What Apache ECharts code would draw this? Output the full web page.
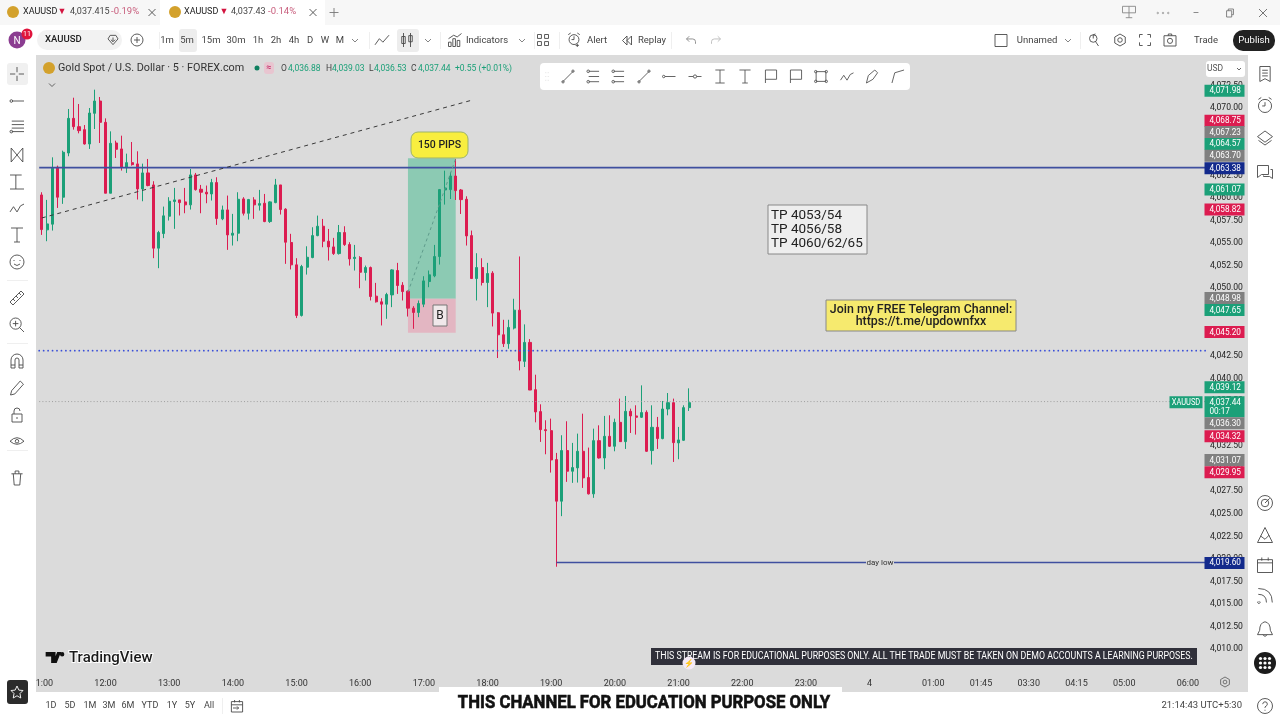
<!DOCTYPE html>
<html>
<head>
<meta charset="utf-8">
<title>XAUUSD 5m</title>
<style>html,body{margin:0;padding:0;background:#fff}#chart{width:1280px;height:720px}</style>
<script src="https://cdn.jsdelivr.net/npm/echarts@6/dist/echarts.min.js"></script>
</head>
<body>
<div id="chart"></div>
<script>
// Candle values, one entry per 5 minute bar starting at 11:00
const opens = [4060.35,4056.48,4057.11,4063.42,4060.10,4065.00,4068.84,4067.92,4067.59,4066.00,4069.40,4070.76,4068.40,4060.54,4066.11,4065.45,4063.38,4063.93,4063.79,4061.02,4062.79,4061.46,4054.45,4056.07,4057.99,4059.62,4059.80,4059.58,4059.25,4062.57,4060.98,4060.65,4060.46,4061.72,4057.70,4058.69,4055.89,4056.11,4059.91,4058.32,4059.80,4059.21,4059.43,4057.40,4059.50,4061.46,4058.77,4055.08,4052.60,
  4046.99,4052.34,4053.41,4055.84,4056.88,4055.22,4054.59,4053.85,4056.18,4054.85,4053.30,4053.41,4051.75,4052.30,4049.13,4048.50,4048.24,4049.27,4051.97,4050.34,4049.68,4047.80,4047.32,4048.24,4050.75,4051.38,4053.52,4060.90,4060.94,4062.45,4060.90,4059.87,4055.84,4051.08,4052.30,4050.64,
  4051.68,4047.29,4044.85,4043.86,4045.59,4047.58,4041.90,4044.00,4038.76,4036.33,4034.33,4034.22,4031.01,4026.40,4032.01,4029.72,4030.09,4031.93,4029.02,4027.21,4033.11,4031.19,4033.59,4032.49,4035.14,4033.00,4036.36,4035.85,4035.70,4036.25,4032.01,4034.59,4033.34,4036.62,4037.32,4032.86,4033.15,4036.77];
const closes = [4056.51,4057.14,4063.31,4060.10,4065.08,4068.84,4067.92,4067.48,4066.00,4069.43,4070.76,4068.40,4060.54,4066.07,4065.41,4063.42,4063.93,4063.71,4061.02,4062.79,4061.39,4054.45,4056.18,4058.03,4059.65,4059.80,4059.50,4059.25,4062.57,4060.94,4060.65,4060.46,4061.72,4057.73,4058.69,4055.92,4056.11,4059.87,4058.32,4059.84,4059.25,4059.39,4057.40,4059.58,4061.46,4058.73,4055.11,4052.60,4046.99,
  4052.41,4053.44,4055.84,4056.88,4055.22,4054.59,4053.85,4056.18,4054.85,4053.26,4053.44,4051.78,4052.30,4049.09,4048.50,4048.24,4049.31,4052.04,4050.31,4049.64,4047.80,4047.32,4048.31,4050.82,4051.49,4053.52,4060.94,4061.12,4062.45,4060.83,4059.83,4055.81,4051.08,4052.30,4050.64,4051.64,
  4047.25,4044.85,4043.86,4045.66,4047.58,4041.94,4044.00,4038.72,4036.29,4034.33,4034.22,4030.97,4026.40,4032.01,4029.72,4030.12,4031.93,4028.98,4027.21,4033.11,4031.19,4033.59,4032.49,4035.14,4033.00,4036.36,4035.85,4035.70,4036.22,4031.93,4034.59,4033.34,4036.62,4037.32,4032.89,4033.19,4036.77,4037.32];
const lows = [4055.92,4055.22,4056.40,4058.91,4059.36,4064.64,4067.59,4067.18,4065.93,4065.45,4067.66,4066.11,4060.54,4060.54,4064.45,4063.05,4062.79,4063.60,4059.84,4059.65,4061.31,4053.34,4052.23,4055.56,4057.51,4056.59,4058.07,4058.32,4058.73,4060.83,4058.32,4059.43,4059.73,4057.03,4057.55,4054.26,4054.74,4055.22,4058.07,4057.62,4057.70,4058.62,4057.33,4057.25,4059.43,4058.18,4052.71,4052.09,4046.70,
  4046.87,4051.52,4053.33,4055.77,4054.55,4053.08,4053.70,4053.74,4054.70,4052.52,4051.97,4050.01,4050.86,4048.65,4048.42,4045.88,4046.62,4047.91,4049.38,4048.65,4046.87,4045.51,4046.80,4047.91,4050.12,4051.23,4052.63,4059.28,4059.90,4059.79,4058.24,4054.74,4051.05,4048.65,4050.31,4047.91,
  4045.77,4042.27,4043.49,4043.30,4045.44,4040.90,4041.27,4038.72,4035.14,4032.97,4031.60,4029.57,4019.13,4024.74,4028.54,4028.43,4028.46,4027.87,4027.14,4026.77,4031.12,4029.94,4032.41,4031.93,4032.97,4032.19,4033.96,4033.78,4035.62,4031.86,4030.46,4032.19,4033.26,4035.92,4030.75,4031.05,4033.08,4036.40];
const highs = [4060.65,4059.80,4064.52,4063.60,4065.26,4069.88,4071.13,4070.43,4068.10,4069.99,4072.02,4071.21,4068.84,4067.40,4066.37,4066.92,4064.93,4066.22,4065.19,4063.82,4064.34,4061.87,4056.37,4059.06,4060.10,4061.13,4059.80,4061.13,4063.23,4062.79,4061.46,4061.39,4062.13,4062.31,4059.17,4060.28,4058.25,4060.65,4060.10,4059.91,4060.10,4060.91,4060.46,4059.65,4062.13,4061.46,4058.88,4056.04,4053.34,
  4052.60,4054.66,4056.77,4058.06,4057.69,4056.58,4055.59,4057.02,4056.88,4055.11,4054.81,4053.56,4052.52,4052.41,4050.60,4048.90,4049.50,4052.12,4052.82,4050.68,4049.75,4048.02,4048.65,4051.34,4051.97,4054.81,4061.01,4063.04,4062.86,4064.33,4061.01,4060.20,4056.40,4053.89,4053.33,4052.82,
  4051.90,4047.36,4046.51,4046.51,4048.84,4053.53,4046.00,4044.37,4040.42,4037.14,4035.37,4035.55,4031.75,4033.71,4035.26,4032.86,4033.89,4036.10,4032.34,4034.44,4034.81,4035.85,4035.92,4035.55,4037.77,4038.06,4036.66,4037.03,4039.24,4036.47,4037.03,4035.74,4037.51,4038.39,4037.77,4034.63,4037.03,4038.91];

// Time axis: 220 bar slots, only these carry a label
const timeTickIndex = [0,12,24,36,48,60,72,84,96,108,120,132,144,156,168,177,186,195,204,216];
const timeTickLabels = ['11:00','12:00','13:00','14:00','15:00','16:00','17:00','18:00','19:00','20:00','21:00','22:00','23:00','4','01:00','01:45','03:30','04:15','05:00','06:00'];

// Price scale tags at the right edge; the scale pushes crowded tags apart, tagNudge is that shift in px
const tagPrices = [4071.98,4068.75,4067.23,4064.57,4063.70,4063.38,4061.07,4058.82,4048.98,4047.65,4045.20,4039.12,4037.44,4036.30,4034.32,4031.07,4029.95,4019.60];
const tagKinds = ['up','down','flat','up','flat','blue','up','down','flat','up','down','up','up','flat','down','flat','down','blue'];
const tagNudge = [0.6,1.5,-0.9,-13,-9,0.7,1,0.7,0.5,0.5,0.4,0.9,0.7,11.4,6.6,1,3.2,0.4];

// Long position drawing and levels
const positionBars = [69,78];
const positionPrices = [4064.43,4048.83,4045.07];
const resistanceLevel = 4063.38;
const supportLevel = 4043.08;
const lastPrice = 4037.44;
const dayLow = 4019.60;
const dayLowStartBar = 97;
const trendBars = [0,81];
const trendPrices = [4057.8,4070.85];
const tradeBars = [69,78];
const tradePrices = [4049.57,4064.37];

const UP = '#1ba078', DOWN = '#dc1c50', BLUE = '#3f4f9f', NAVY = '#132a8c', FONT = 'Roboto, sans-serif';
const tagColors = { up: UP, down: DOWN, flat: '#808080', blue: NAVY };

const categories = new Array(220).fill('');
timeTickIndex.forEach((slot, i) => { categories[slot] = timeTickLabels[i]; });
const candles = opens.map((o, i) => [o, closes[i], lows[i], highs[i]]);

const levelRows = [
  { x0: null, p0: resistanceLevel, p1: resistanceLevel, stroke: BLUE, width: 1.6 },
  { x0: null, p0: supportLevel, p1: supportLevel, stroke: '#3a4fd8', width: 1.8, dash: [0.01, 4.44], cap: 'round' },
  { x0: null, p0: lastPrice, p1: lastPrice, stroke: '#9f9f9f', width: 1, dash: [1, 2.2] },
  { x0: dayLowStartBar, p0: dayLow, p1: dayLow, stroke: BLUE, width: 1.6, toEdge: true },
  { x0: trendBars[0], x1: trendBars[1], p0: trendPrices[0], p1: trendPrices[1], stroke: '#3a3a3a', width: 1, dash: [4, 4] },
  { x0: tradeBars[0], x1: tradeBars[1], p0: tradePrices[0], p1: tradePrices[1], stroke: '#5f9c8c', width: 1, dash: [3, 3] }
];
const zoneRows = [
  { top: positionPrices[0], bottom: positionPrices[1], fill: '#8ccab3' },
  { top: positionPrices[1], bottom: positionPrices[2], fill: '#e3b6c2' }
];

function renderZone(params, api) {
  const row = zoneRows[params.dataIndex];
  const a = api.coord([positionBars[0], row.top]);
  const b = api.coord([positionBars[1], row.bottom]);
  return { type: 'rect', shape: { x: a[0], y: a[1], width: b[0] - a[0], height: b[1] - a[1] }, style: { fill: row.fill } };
}

function renderLevel(params, api) {
  const row = levelRows[params.dataIndex];
  const cs = params.coordSys;
  const right = cs.x + cs.width;
  const y0 = api.coord([0, row.p0])[1];
  const y1 = api.coord([0, row.p1])[1];
  const x0 = row.x0 === null ? cs.x : api.coord([row.x0, row.p0])[0];
  const x1 = (row.x0 === null || row.toEdge) ? right : api.coord([row.x1, row.p1])[0];
  return { type: 'line', shape: { x1: x0, y1: y0, x2: x1, y2: y1 },
    style: { stroke: row.stroke, lineWidth: row.width, lineDash: row.dash, lineCap: row.cap || 'butt' } };
}

function renderTag(params, api) {
  const price = tagPrices[params.dataIndex];
  const y = api.coord([0, price])[1] + tagNudge[params.dataIndex];
  const x = params.coordSys.x + params.coordSys.width - 2;
  const fill = tagColors[tagKinds[params.dataIndex]];
  const label = price.toFixed(2).replace(/^(\d)(\d{3})/, '$1,$2');
  const isLast = price === lastPrice;
  const children = [
    { type: 'rect', shape: { x, y: y - 6, width: 40, height: isLast ? 21 : 12 }, style: { fill } },
    { type: 'text', style: { x: x + 5, y: y + 0.5, text: label, fill: '#fff', font: '8.2px ' + FONT, verticalAlign: 'middle' } }
  ];
  if (isLast) {
    children.push({ type: 'text', style: { x: x + 5, y: y + 9.5, text: '00:17', fill: '#fff', font: '8.2px ' + FONT, verticalAlign: 'middle' } });
    children.push({ type: 'rect', shape: { x: x - 35, y: y - 6, width: 33, height: 12 }, style: { fill } });
    children.push({ type: 'text', x: x - 18.5, y: y + 0.5, scaleX: 0.88, style: { x: 0, y: 0, text: 'XAUUSD', fill: '#fff', font: '8.5px ' + FONT, align: 'center', verticalAlign: 'middle' } });
  }
  return { type: 'group', children };
}

// Small stroked pictograms for the application chrome
const ICONS = {
  cross: 'M9 1V7M9 11V17M1 9H7M11 9H17',
  ray: 'M1 9a1.5 1.5 0 1 0 3 0a1.5 1.5 0 1 0 -3 0M4 9H17',
  lines: 'M3 3H17M3 7H17M3 11H17M3 15H17M1 15a1.5 1.5 0 1 0 3 0a1.5 1.5 0 1 0 -3 0',
  fork: 'M4 2L14 14M14 2L4 14M4 2V14M14 2V14',
  fib: 'M3 3H13M3 15H15M8 3V15',
  wave: 'M1 12L5 6L9 12L13 5L17 3',
  text: 'M3 3H15M9 3V17M6 17H12',
  smile: 'M16 9A7 7 0 1 1 2 9A7 7 0 1 1 16 9M6 7V8M12 7V8M6 11Q9 14 12 11',
  ruler: 'M2 13L13 2L16 5L5 16ZM5 10L7 12M8 7L10 9M11 4L13 6',
  zoom: 'M14 8A6 6 0 1 1 2 8A6 6 0 1 1 14 8M8 5V11M5 8H11M12 12L17 17',
  magnet: 'M3 16V8A6 6 0 0 1 15 8V16H11V8A2 2 0 0 0 7 8V16ZM3 13H7M11 13H15',
  pencil: 'M3 12L11 3L14 6L6 15L2 16Z',
  lock: 'M4 8H14V16H4ZM6 8V5A3 3 0 0 1 12 5M9 11V13',
  eye: 'M1 8Q9 0 17 8Q9 15 1 8M11 8A2 2 0 1 1 7 8A2 2 0 1 1 11 8',
  trash: 'M3 5H15M5 5L6 17H12L13 5M7 5V2H11V5',
  list: 'M4 1H15V17L9.5 14L4 17ZM6.5 5H12.5M6.5 8H12.5M6.5 11H12.5',
  clock: 'M16 10A7 7 0 1 1 2 10A7 7 0 1 1 16 10M9 6V10H6M2 3L5 1M16 3L13 1',
  layers: 'M9 2L17 8L9 14L1 8ZM2 12L9 17L16 12',
  chat: 'M2 2H13V11H6L2 14ZM15 6H17V15L14 13H8V12',
  target: 'M17 9A8 8 0 1 1 1 9A8 8 0 1 1 17 9M13 9A4 4 0 1 1 5 9A4 4 0 1 1 13 9M9 9L14 4',
  peak: 'M2 16L9 2L16 16ZM5 10L9 13L13 9',
  calendar: 'M2 4H16V16H2ZM2 7H16M6 2V5M12 2V5',
  signal: 'M2 15A1 1 0 1 0 3 15M2 9Q9 9 9 16M2 4Q14 4 14 16',
  bell: 'M9 2Q14 3 14 10L16 14H2L4 10Q4 3 9 2M7 14Q9 17 11 14',
  help: 'M17 9A8 8 0 1 1 1 9A8 8 0 1 1 17 9M6.5 7Q7 4.5 9 4.5Q11.5 4.5 11.5 7Q11.5 8.5 9 10V11M9 13V14',
  star: 'M9 1L11.5 6.5L17 7L13 11L14 17L9 14L4 17L5 11L1 7L6.5 6.5Z',
  linechart: 'M1 14L6 7L10 11L17 3',
  candle: 'M5 1V17M3 5H7V13H3ZM13 1V17M11 4H15V11H11Z',
  grid: 'M2 2H7V7H2ZM11 2H16V7H11ZM2 11H7V16H2ZM11 11H16V16H11Z',
  bars: 'M2 16V11H5V16ZM7 16V7H10V16ZM12 16V9H15V16ZM2 7L8 3L12 5L17 1',
  alarm: 'M15 9A6 6 0 1 1 3 9A6 6 0 1 1 15 9M9 5V9H6M2 3L5 1M16 3L13 1M13 14V18M11 16H15',
  rewind: 'M9 3L3 9L9 15ZM15 3L9 9L15 15Z',
  undo: 'M6 3L2 7L6 11M2 7H11Q15 7 15 11V14',
  redo: 'M12 3L16 7L12 11M16 7H7Q3 7 3 11V14',
  plusCircle: 'M17 9A8 8 0 1 1 1 9A8 8 0 1 1 17 9M9 5V13M5 9H13',
  plus: 'M9 2V16M2 9H16',
  close: 'M3 3L15 15M15 3L3 15',
  chevron: 'M3 6L9 12L15 6',
  hexagon: 'M9 1L16 5V13L9 17L2 13V5ZM12 9A3 3 0 1 1 6 9A3 3 0 1 1 12 9',
  frame: 'M2 6V2H6M12 2H16V6M16 12V16H12M6 16H2V12',
  camera: 'M2 4H16V16H2ZM12 10A3 3 0 1 1 6 10A3 3 0 1 1 12 10M7 4V2H11V4',
  apple: 'M13 7A5 5 0 1 1 3 7A5 5 0 1 1 13 7M8 7V2L11 1M11 11L15 17',
  screen: 'M1 2H17V10H1ZM9 2V16M5 16H13',
  restore: 'M4 5H13V16H4ZM7 5V2H16V12H13',
  check: 'M2 2H16V16H2Z',
  diamond: 'M9 15L2 7L5 2H13L16 7ZM9 5V10M6 8L9 11L12 8',
  jump: 'M2 3H16V16H2ZM2 7H16M6 1V4M12 1V4M4 11H11M9 9L11 11L9 13',
  dots: 'M1 9A1 1 0 1 0 3 9A1 1 0 1 0 1 9M8 9A1 1 0 1 0 10 9A1 1 0 1 0 8 9M15 9A1 1 0 1 0 17 9A1 1 0 1 0 15 9',
  grip: 'M3 2V3M3 8V9M3 14V15M7 2V3M7 8V9M7 14V15',
  segment: 'M2 16L16 2M1 16a1.5 1.5 0 1 0 3 0a1.5 1.5 0 1 0 -3 0M14 2a1.5 1.5 0 1 0 3 0a1.5 1.5 0 1 0 -3 0',
  rail: 'M3 3H15M3 9H15M3 15H15M1 3a1.5 1.5 0 1 0 3 0a1.5 1.5 0 1 0 -3 0M1 15a1.5 1.5 0 1 0 3 0a1.5 1.5 0 1 0 -3 0',
  midpoint: 'M1 9H7M11 9H17M7 9a2 2 0 1 0 4 0a2 2 0 1 0 -4 0',
  range: 'M4 2H14M4 16H14M9 2V16',
  note: 'M3 16V2H15V12H3',
  rectangle: 'M3 3H15V15H3ZM1 3a1.5 1.5 0 1 0 3 0a1.5 1.5 0 1 0 -3 0M14 3a1.5 1.5 0 1 0 3 0a1.5 1.5 0 1 0 -3 0M1 15a1.5 1.5 0 1 0 3 0a1.5 1.5 0 1 0 -3 0M14 15a1.5 1.5 0 1 0 3 0a1.5 1.5 0 1 0 -3 0',
  brush: 'M3 16L5 8L12 2L15 5L10 12Z',
  path: 'M2 16L5 5L15 2'
};

function icon(name, cx, cy, size, stroke, width) {
  const s = size || 14;
  return { type: 'path',
    shape: { pathData: ICONS[name], layout: 'center', x: cx - s / 2, y: cy - s / 2, width: s, height: s },
    style: { fill: 'none', stroke: stroke || '#4a4a4a', lineWidth: width || 0.9 } };
}
function text(str, x, y, size, fill, opts) {
  const o = opts || {};
  return { type: 'text', z: o.z || 20, silent: true, x, y, scaleX: o.scaleX || 1,
    style: { x: 0, y: 0, text: str, fill: fill || '#333', font: (o.weight ? o.weight + ' ' : '') + size + 'px ' + (o.family || FONT),
      align: o.align || 'center', verticalAlign: 'middle', stroke: o.stroke, lineWidth: o.strokeWidth } };
}
function box(x, y, w, h, fill, opts) {
  const o = opts || {};
  return { type: 'rect', z: o.z || 15, silent: true, shape: { x, y, width: w, height: h, r: o.r || 0 },
    style: { fill, stroke: o.stroke, lineWidth: o.lineWidth } };
}
function dot(cx, cy, r, fill, z) {
  return { type: 'circle', z: z || 20, silent: true, shape: { cx, cy, r }, style: { fill } };
}

function buildChrome() {
  const g = [];
  // panels
  g.push(box(36, 55, 1212, 637, '#dbdbdb', { z: -10 }));
  g.push(box(0, 0, 1280, 25, '#f7f7f7'));
  g.push(box(160, 0, 165, 25, '#ffffff'));
  g.push(box(0, 25, 1280, 30, '#ffffff'));
  g.push(box(0, 55, 36, 665, '#ffffff'));
  g.push(box(1250, 55, 30, 665, '#ffffff'));
  g.push(box(0, 692, 1280, 28, '#ffffff'));

  // tabs
  [[13, 'XAUUSD', 23, 62, '4,037.415', 70, '-0.19%', 111, 152], [175, 'XAUUSD', 184, 224, '4,037.43', 231, '-0.14%', 268, 313]].forEach(t => {
    g.push(dot(t[0], 12, 6, '#d3a12c'));
    g.push(text(t[1], t[2], 12, 9, '#222', { align: 'left' }));
    g.push(text('▼', t[3], 12, 9, '#d3143f'));
    g.push(text(t[4], t[5], 12, 9, '#444', { align: 'left' }));
    g.push(text(t[6], t[7], 12, 9.5, '#c85d7c', { align: 'left' }));
    g.push(icon('close', t[8], 12.5, 7));
  });
  g.push(icon('plus', 334, 12.5, 9, '#777'));
  g.push(icon('screen', 1129, 12, 13, '#888'));
  g.push(icon('dots', 1163, 13, 12, '#999'));
  g.push(icon('close', 1263, 13, 8, '#666'));
  g.push(icon('restore', 1230, 13, 8, '#777'));
  g.push(text('–', 1196, 13, 10, '#777'));

  // main toolbar
  g.push(dot(17, 40, 8.5, '#8b3d91'));
  g.push(text('N', 17, 41, 10, '#fff'));
  g.push(dot(27, 34, 5.5, '#e0143c', 21));
  g.push(text('11', 27, 34, 7, '#fff', { z: 22 }));
  g.push(box(37, 30, 85, 20, '#f2f2f2', { r: 10 }));
  g.push(text('XAUUSD', 45, 40, 9.5, '#222', { align: 'left', weight: 500 }));
  g.push(icon('diamond', 113, 40, 10));
  g.push(icon('plusCircle', 137, 40, 12));
  g.push(box(179, 29, 18, 23, '#ededed', { r: 3 }));
  g.push(box(397, 29, 22, 23, '#ededed', { r: 3 }));
  [['1m', 167], ['5m', 187], ['15m', 211], ['30m', 236], ['1h', 258], ['2h', 276], ['4h', 294], ['D', 310], ['W', 325], ['M', 340]].forEach(t => {
    g.push(text(t[0], t[1], 40.5, 9.5, '#444'));
  });
  [355, 428, 522, 1068].forEach(x => g.push(icon('chevron', x, 40.5, 6, '#777')));
  g.push(icon('linechart', 382, 40, 14));
  g.push(icon('candle', 407, 40, 14));
  g.push(icon('bars', 455, 40, 13));
  g.push(text('Indicators', 487, 40.5, 9.5, '#444'));
  g.push(icon('grid', 543, 40, 11));
  g.push(icon('alarm', 574, 40, 14));
  g.push(text('Alert', 597, 40.5, 9.5, '#444'));
  g.push(icon('rewind', 627, 40.5, 9));
  g.push(text('Replay', 652, 40.5, 9.5, '#444'));
  g.push(icon('undo', 691, 40, 9, '#888'));
  g.push(icon('redo', 716, 40, 9, '#bbb'));
  g.push(icon('check', 1001, 40.5, 12));
  g.push(text('Unnamed', 1037, 40.5, 9.5, '#444'));
  g.push(icon('apple', 1094, 40, 12));
  g.push(icon('hexagon', 1120, 40, 12));
  g.push(icon('frame', 1145, 40, 11));
  g.push(icon('camera', 1170, 40, 12));
  g.push(text('Trade', 1206, 40.5, 9.5, '#444'));
  g.push(box(1233, 30, 42, 21, '#222222', { r: 10 }));
  g.push(text('Publish', 1254, 40.5, 9.5, '#fff'));
  [159, 369, 440, 534, 559, 671, 1080].forEach(x => g.push(box(x, 32, 0.6, 17, '#e4e4e4')));

  // legend row
  g.push(dot(49, 68, 6, '#d3a12c'));
  g.push(text('Gold Spot / U.S. Dollar · 5 · FOREX.com', 58, 68.5, 10.8, '#333', { align: 'left' }));
  g.push(dot(257, 68, 2.5, '#0e7f5f'));
  g.push(box(264, 62, 10, 12, '#e8c5d0', { r: 3 }));
  g.push(text('≈', 269, 68, 9, '#c2185b'));
  g.push(text('O', 281, 68.5, 8.5, '#444', { align: 'left' }));
  g.push(text('4,036.88', 288, 68.5, 8.5, UP, { align: 'left' }));
  g.push(text('H', 326, 68.5, 8.5, '#444', { align: 'left' }));
  g.push(text('4,039.03', 332, 68.5, 8.5, UP, { align: 'left' }));
  g.push(text('L', 369, 68.5, 8.5, '#444', { align: 'left' }));
  g.push(text('4,036.53', 374, 68.5, 8.5, UP, { align: 'left' }));
  g.push(text('C', 411, 68.5, 8.5, '#444', { align: 'left' }));
  g.push(text('4,037.44', 418, 68.5, 8.5, UP, { align: 'left' }));
  g.push(text('+0.55 (+0.01%)', 455, 68.5, 8.5, UP, { align: 'left' }));
  g.push(icon('chevron', 52, 85, 6, '#555'));

  // floating drawing toolbar
  g.push(box(540, 63, 370, 27, '#ffffff', { r: 4 }));
  g.push(icon('grip', 547, 76.5, 8, '#ccc'));
  [['segment', 568], ['rail', 593], ['rail', 618], ['segment', 644], ['ray', 669], ['midpoint', 695], ['range', 720], ['text', 745], ['note', 771], ['note', 796], ['rectangle', 821], ['wave', 847], ['brush', 872], ['path', 898]]
    .forEach(t => g.push(icon(t[0], t[1], 76.5, 13, '#555')));

  // USD selector
  g.push(box(1206, 61, 39, 16, '#ffffff', { r: 3 }));
  g.push(text('USD', 1215, 69, 8.5, '#555'));
  g.push(icon('chevron', 1239, 69, 4, '#555'));

  // left tool rail
  g.push(box(7, 63, 21, 22, '#f0f0f0', { r: 3 }));
  [['cross', 74], ['ray', 101], ['lines', 127], ['fork', 155], ['fib', 182], ['wave', 208], ['text', 235], ['smile', 262], ['ruler', 298], ['zoom', 325], ['magnet', 361], ['pencil', 388], ['lock', 415], ['eye', 441], ['trash', 478]]
    .forEach(t => g.push(icon(t[0], 17, t[1], 14)));
  [280, 343, 450].forEach(y => g.push(box(7, y, 21, 0.6, '#e4e4e4')));
  g.push(box(7, 680, 21, 24, '#2b2b2b', { r: 3 }));
  g.push(icon('star', 17, 692, 12, '#fff'));

  // right rail
  [['list', 74], ['clock', 105], ['layers', 138], ['chat', 172], ['target', 503], ['peak', 535], ['calendar', 565], ['signal', 596], ['bell', 629], ['help', 706]]
    .forEach(t => g.push(icon(t[0], 1265, t[1], 15)));
  g.push(dot(1265, 663, 11, '#1c1c1c'));
  [-4.5, 0, 4.5].forEach(dx => [-4.5, 0, 4.5].forEach(dy => g.push(dot(1265 + dx, 663 + dy, 1.6, '#fff', 21))));
  g.push(icon('hexagon', 1225, 682, 10, '#666'));

  // bottom range bar
  [['1D', 51], ['5D', 70], ['1M', 90], ['3M', 109], ['6M', 128], ['YTD', 150], ['1Y', 172], ['5Y', 190], ['All', 209]].forEach(t => {
    g.push(text(t[0], t[1], 706, 9, '#444'));
  });
  g.push(box(222, 698, 0.6, 16, '#e4e4e4'));
  g.push(icon('jump', 237, 706, 12));
  g.push(text('21:14:43 UTC+5:30', 1242, 706, 9.5, '#444', { align: 'right' }));

  // annotations drawn on the chart
  g.push(box(411, 132, 57, 26, '#f8ee3f', { r: 7, stroke: '#9cb36b', lineWidth: 1, z: 12 }));
  g.push(text('150 PIPS', 439.5, 145, 10.5, '#222', { weight: 500 }));
  g.push(box(433, 305, 14, 21, '#f0e8ea', { stroke: '#777', lineWidth: 1, z: 12 }));
  g.push(text('B', 440, 316, 12, '#222'));
  g.push(box(768, 205, 99, 49, '#eeeeee', { stroke: '#888', lineWidth: 1, z: 12 }));
  g.push(text('TP 4053/54', 771, 215.5, 13.5, '#222', { align: 'left' }));
  g.push(text('TP 4056/58', 771, 229.5, 13.5, '#222', { align: 'left' }));
  g.push(text('TP 4060/62/65', 771, 243.5, 13.5, '#222', { align: 'left' }));
  g.push(box(826, 300, 190, 31, '#f6ea6e', { stroke: '#888', lineWidth: 1, z: 12 }));
  g.push(text('Join my FREE Telegram Channel:', 921, 309.5, 12.4, '#222', { weight: 500 }));
  g.push(text('https://t.me/updownfxx', 921, 322, 12.4, '#222', { weight: 500 }));
  g.push(box(866, 558, 28, 10, '#dbdbdb', { z: 12 }));
  g.push(text('day low', 880, 563, 8, '#333'));

  // TradingView mark
  g.push(text('TradingView', 69, 658, 15, '#1a1a1a', { align: 'left', weight: 500, stroke: '#fff', strokeWidth: 2 }));
  g.push({ type: 'path',
    shape: { pathData: 'M0 0H9V10H5V4H0ZM10.5 0H14L10 10H6.5ZM15 0A2 2 0 1 1 15 4A2 2 0 1 1 15 0', layout: 'center', x: 45, y: 652, width: 20, height: 11 },
    style: { fill: '#111' } });

  // stream banner and channel strip
  g.push(box(651, 648, 546, 17, '#30303a', { z: 22 }));
  g.push(text('THIS STREAM IS FOR EDUCATIONAL PURPOSES ONLY. ALL THE TRADE MUST BE TAKEN ON DEMO ACCOUNTS A LEARNING PURPOSES.', 924, 656.5, 10.5, '#fff', { z: 23, scaleX: 0.838 }));
  g.push(dot(689, 663, 6.5, '#f4e9f6', 24));
  g.push(text('⚡', 689, 663.5, 8, '#a32fb0', { z: 25 }));
  g.push(box(439, 687, 403, 33, '#ffffff', { z: 22 }));
  g.push(text('THIS CHANNEL FOR EDUCATION PURPOSE ONLY', 644, 703.5, 18, '#111', { weight: 'bold', z: 23, scaleX: 0.93, stroke: '#111', strokeWidth: 0.6 }));
  return g;
}

const chromeParts = buildChrome();
const iconParts = chromeParts.filter(el => el.type === 'path');

const chart = echarts.init(document.getElementById('chart'), null, { renderer: 'canvas' });
chart.setOption({
  animation: false,
  backgroundColor: '#ffffff',
  grid: { left: 39.2, width: 1167.3, top: 62.8, height: 608.85 },
  xAxis: {
    type: 'category',
    data: categories,
    boundaryGap: true,
    axisLine: { show: false },
    axisTick: { show: false },
    axisLabel: {
      interval: (i, v) => v !== '',
      color: '#333',
      fontFamily: FONT,
      fontSize: 9,
      margin: 8
    }
  },
  yAxis: {
    type: 'value',
    position: 'right',
    min: 4007.5,
    max: 4075,
    interval: 2.5,
    scale: true,
    axisLine: { show: false },
    axisTick: { show: false },
    splitLine: { show: false },
    axisLabel: {
      margin: 3.5,
      color: '#222',
      fontFamily: FONT,
      fontSize: 8.6,
      padding: [4, 0, 0, 0],
      showMinLabel: false,
      showMaxLabel: false,
      formatter: v => v.toFixed(2).replace(/^(\d)(\d{3})/, '$1,$2')
    }
  },
  graphic: { elements: chromeParts.filter(el => el.type !== 'path') },
  series: [
    { type: 'custom', name: 'position', z: 1, coordinateSystem: 'cartesian2d', renderItem: renderZone, data: zoneRows.map(r => [positionBars[0], r.top]), silent: true },
    { type: 'candlestick', name: 'XAUUSD', z: 2, data: candles, barWidth: 2.6, silent: true,
      itemStyle: { color: UP, color0: DOWN, borderColor: UP, borderColor0: DOWN, borderColorDoji: UP, borderWidth: 1 } },
    { type: 'custom', name: 'levels', z: 3, coordinateSystem: 'cartesian2d', renderItem: renderLevel, data: levelRows.map(r => [r.x0 === null ? 0 : r.x0, r.p0]), silent: true },
    { type: 'custom', name: 'tags', z: 4, coordinateSystem: 'cartesian2d', renderItem: renderTag, data: tagPrices.map(p => [0, p]), silent: true, clip: false },
    { type: 'custom', name: 'icons', z: 30, coordinateSystem: 'none', renderItem: (params) => iconParts[params.dataIndex], data: iconParts.map((el, i) => [i]), silent: true }
  ]
});
</script>
</body>
</html>
